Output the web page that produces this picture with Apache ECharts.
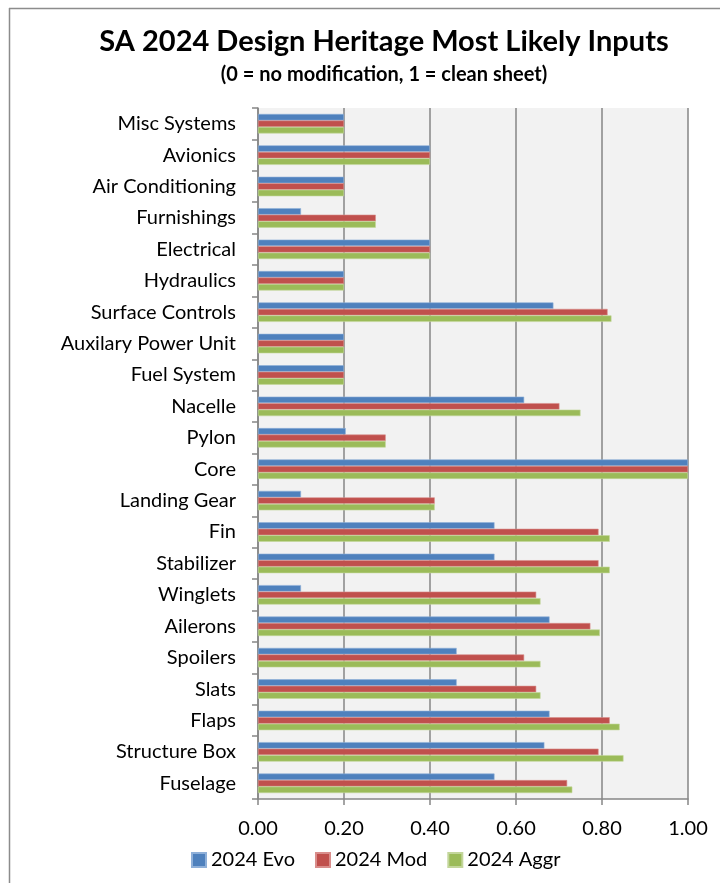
<!DOCTYPE html>
<html>
<head>
<meta charset="utf-8">
<script src="https://cdn.jsdelivr.net/npm/echarts@6/dist/echarts.min.js"></script>
<style>
  html, body { margin: 0; padding: 0; background: #ffffff; }
  #chart { width: 720px; height: 883px; }
</style>
</head>
<body>
<div id="chart"></div>
<script>
// Design heritage inputs per component (0 = no modification, 1 = clean sheet)
const categories = [
  'Misc Systems', 'Avionics', 'Air Conditioning', 'Furnishings', 'Electrical',
  'Hydraulics', 'Surface Controls', 'Auxilary Power Unit', 'Fuel System', 'Nacelle',
  'Pylon', 'Core', 'Landing Gear', 'Fin', 'Stabilizer', 'Winglets', 'Ailerons',
  'Spoilers', 'Slats', 'Flaps', 'Structure Box', 'Fuselage'
];
const seriesNames = ['2024 Evo', '2024 Mod', '2024 Aggr'];
const evo  = [0.20, 0.40, 0.20, 0.10, 0.40, 0.20, 0.687, 0.20, 0.20, 0.619, 0.204, 1.00, 0.10, 0.55, 0.55, 0.10, 0.678, 0.462, 0.462, 0.678, 0.666, 0.55];
const mod  = [0.20, 0.40, 0.20, 0.274, 0.40, 0.20, 0.813, 0.20, 0.20, 0.701, 0.297, 1.00, 0.411, 0.792, 0.792, 0.647, 0.773, 0.619, 0.647, 0.818, 0.792, 0.719];
const aggr = [0.20, 0.40, 0.20, 0.274, 0.40, 0.20, 0.822, 0.20, 0.20, 0.750, 0.297, 1.00, 0.411, 0.818, 0.818, 0.657, 0.795, 0.657, 0.657, 0.841, 0.850, 0.731];
const xTicks = [0, 0.2, 0.4, 0.6, 0.8, 1.0];

const FONT = 'Lato, "Open Sans", sans-serif';
const colors = ['#4f81bd', '#c0504d', '#9bbb59'];
const edges = ['#8fb0d9', '#d98e8c', '#c3d69b'];
const values = [evo, mod, aggr];

const chart = echarts.init(document.getElementById('chart'), null, { renderer: 'canvas' });

chart.setOption({
  backgroundColor: '#ffffff',
  animation: false,
  textStyle: { fontFamily: FONT },
  title: {
    text: 'SA 2024 Design Heritage Most Likely Inputs',
    subtext: '(0 = no modification, 1 = clean sheet)',
    left: 379,
    textAlign: 'center',
    top: 22,
    itemGap: 9,
    textStyle: { fontFamily: FONT, fontSize: 29, fontWeight: 'bold', color: '#000000' },
    subtextStyle: { fontFamily: FONT, fontSize: 20, fontWeight: 'bold', color: '#000000' }
  },
  legend: {
    data: seriesNames,
    left: 186,
    top: 845,
    itemWidth: 14,
    itemHeight: 14,
    itemGap: 20,
    icon: 'rect',
    textStyle: { fontFamily: FONT, fontSize: 20, color: '#000000', padding: [0, 0, 0, 0] }
  },
  grid: {
    left: 258,
    right: 32,
    top: 108,
    bottom: 84,
    show: true,
    backgroundColor: '#f2f2f2',
    borderWidth: 0
  },
  xAxis: {
    type: 'value',
    min: xTicks[0],
    max: xTicks[xTicks.length - 1],
    interval: 0.2,
    axisLine: { show: true, lineStyle: { color: '#868686', width: 1.5 } },
    axisTick: { show: true, length: 6, lineStyle: { color: '#868686', width: 1.5 } },
    splitLine: { show: true, lineStyle: { color: '#868686', width: 1.5 } },
    axisLabel: {
      margin: 20,
      fontFamily: FONT,
      fontSize: 20,
      color: '#000000',
      formatter: v => v.toFixed(2)
    }
  },
  yAxis: {
    type: 'category',
    data: categories,
    inverse: true,
    axisLine: { show: true, lineStyle: { color: '#868686', width: 1.5 } },
    axisTick: { show: true, length: 6, lineStyle: { color: '#868686', width: 1.5 } },
    splitLine: { show: false },
    axisLabel: {
      margin: 22,
      fontFamily: FONT,
      fontSize: 20,
      color: '#000000'
    }
  },
  series: seriesNames.map((name, i) => ({
    name: name,
    type: 'bar',
    data: values[i],
    barWidth: 6.5,
    barGap: '0%',
    itemStyle: { color: colors[i], borderColor: edges[i], borderWidth: 0.6 }
  })),
  graphic: [
    { type: 'line', shape: { x1: 9.5, y1: 8, x2: 9.5, y2: 883 }, style: { stroke: '#8c8c8c', lineWidth: 1.5 } },
    { type: 'line', shape: { x1: 9, y1: 8.5, x2: 720, y2: 8.5 }, style: { stroke: '#8c8c8c', lineWidth: 1.5 } }
  ]
});
</script>
</body>
</html>
